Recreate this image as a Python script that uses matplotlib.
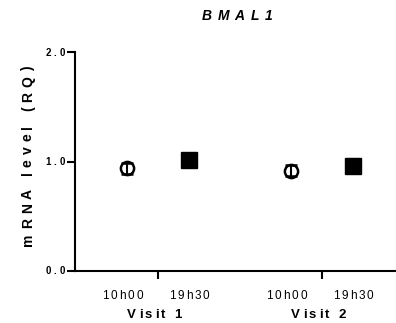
import numpy as np
import matplotlib.pyplot as plt
from matplotlib.transforms import offset_copy, blended_transform_factory

plt.rcParams['font.family'] = ['Liberation Sans', 'DejaVu Sans']

visits = ['Visit 1', 'Visit 2']
times = ['10h00', '19h30']
morning_mean = [0.94, 0.915]
morning_err = [0.05, 0.05]
evening_mean = [1.01, 0.96]
evening_err = [0.02, 0.06]
yticks = [0.0, 1.0, 2.0]

fig = plt.figure(figsize=(3.96, 3.23), dpi=100)
ax = fig.add_axes([0.189, 0.161, 0.808, 0.678])
renderer = fig.canvas.get_renderer()


def text_width(s, **kw):
    # ink width of a string, in pixels
    if not s:
        return 0.0
    t = fig.text(0, 0, s, **kw)
    w = t.get_window_extent(renderer).width
    t.remove()
    return w


def tracked_text(x, y, s, track, transform, ha='center', rotation=0, **kw):
    """Draw a string with extra letter spacing (track, in pixels)."""
    bar = text_width('|', **kw)
    pos = [text_width(s[:i] + '|', **kw) - bar if i else 0.0 for i in range(len(s))]
    total = text_width(s, **kw) + track * (len(s) - 1)
    start = {'left': 0.0, 'center': -total / 2, 'right': -total}[ha]
    for i, ch in enumerate(s):
        if ch == ' ':
            continue
        d = start + pos[i] + i * track
        dx, dy = (0, d) if rotation == 90 else (d, 0)
        tr = offset_copy(transform, fig=fig, x=dx, y=dy, units='dots')
        fig.text(x, y, ch, transform=tr, ha='left', va='baseline',
                 rotation=rotation, rotation_mode='anchor', **kw)


centers = np.arange(1, len(visits) + 1)
off = 0.19

ax.errorbar(centers - off, morning_mean, yerr=morning_err, fmt='o', ms=9.5,
            mfc='none', mec='black', mew=1.8, ecolor='black', elinewidth=1.5,
            capsize=4.5, capthick=1.5, zorder=3)
ax.errorbar(centers + off, evening_mean, yerr=evening_err, fmt='none',
            ecolor='black', elinewidth=1.5, capsize=4.5, capthick=1.5, zorder=3)
ax.plot(centers + off, evening_mean, 's', ms=11.5, color='black', zorder=4)

ax.set_xlim(0.494, 2.445)
ax.set_ylim(0, 2.0)
ax.set_yticks(yticks)
ax.set_yticklabels([])
ax.set_xticks(centers)
ax.set_xticklabels([])

for s in ['top', 'right']:
    ax.spines[s].set_visible(False)
for s in ['left', 'bottom']:
    ax.spines[s].set_linewidth(1.5)
ax.tick_params(width=1.5, length=6, direction='out')

# y tick labels
ytr = offset_copy(blended_transform_factory(fig.transFigure, ax.transData),
                  fig=fig, y=-3.5, units='dots')
for v in yticks:
    tracked_text(65 / 396, v, f'{v:.1f}', 3.0, ytr, ha='right',
                 fontsize=7, fontweight='bold')

# x tick labels and group labels
xtr = offset_copy(ax.get_xaxis_transform(), fig=fig, y=-28, units='dots')
gtr = offset_copy(ax.get_xaxis_transform(), fig=fig, y=-47, units='dots')
for c, v in zip(centers, visits):
    tracked_text(c - off - 0.025, 0, times[0], 2.0, xtr, fontsize=8.5)
    tracked_text(c + off, 0, times[1], 2.0, xtr, fontsize=8.5)
    tracked_text(c - 0.02, 0, v, 2.6, gtr, fontsize=9.5, fontweight='bold')

# axis title and chart title
tracked_text(32 / 396, 167 / 323, 'mRNA level (RQ)', 4.9, fig.transFigure,
             rotation=90, fontsize=10, fontweight='bold')
tracked_text(237 / 396, 303 / 323, 'BMAL1', 5.7, fig.transFigure,
             fontsize=10, fontweight='bold', fontstyle='italic')

fig.savefig('out.png', dpi=100)
